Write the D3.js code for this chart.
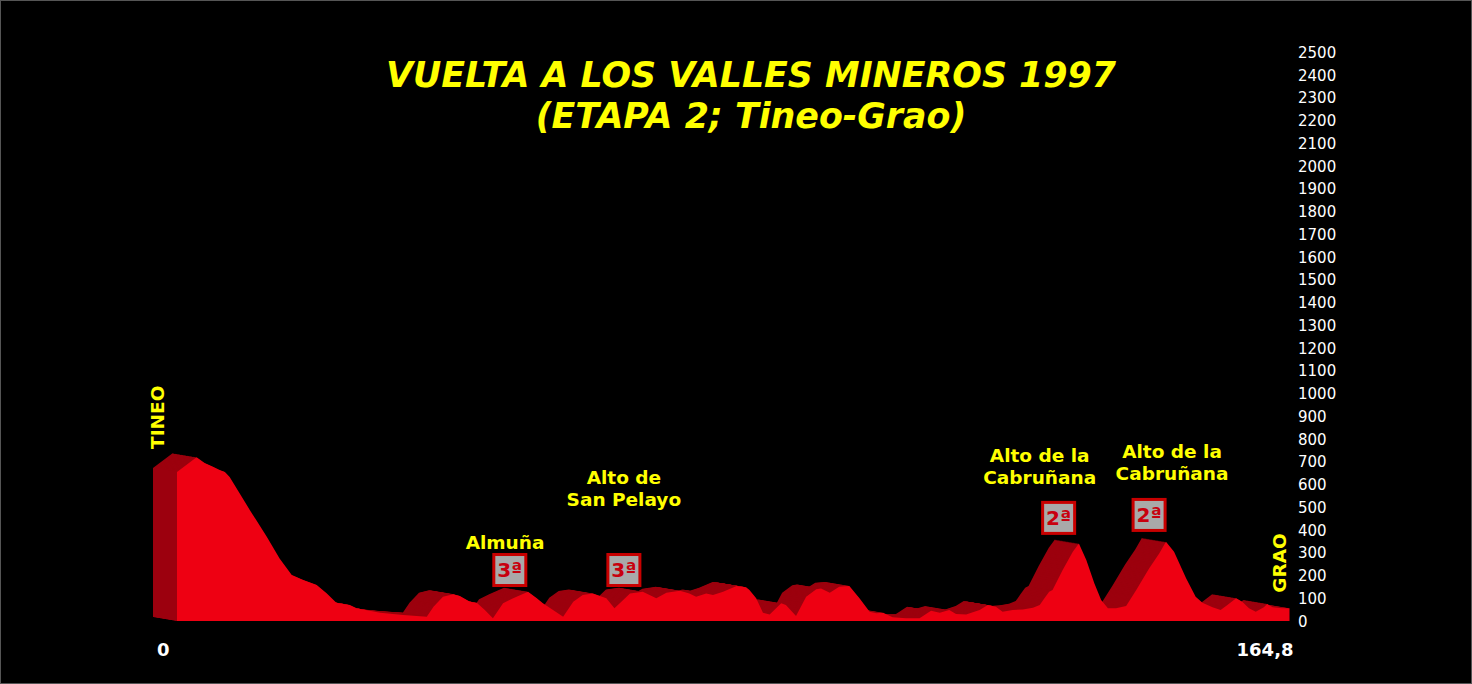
<!DOCTYPE html>
<html>
<head>
<meta charset="utf-8">
<script src="https://cdn.jsdelivr.net/npm/d3@7/dist/d3.min.js"></script>
<style>
  html, body { margin: 0; padding: 0; background: #000; }
  svg { display: block; }
</style>
</head>
<body>
<svg id="chart" width="1472" height="684"></svg>
<script>
// ---- DATA ----
const titleLines = ["VUELTA A LOS VALLES MINEROS 1997", "(ETAPA 2; Tineo-Grao)"];
const startName = "TINEO";
const finishName = "GRAO";
const distanceTicks = [0, 164.8];
const distanceLabels = ["0", "164,8"];
const altitudeTicks = d3.range(0, 2501, 100);

// profile: km, altitude (m)
const km = [0.0, 2.9, 4.1, 5.4, 6.4, 7.1, 7.8, 10.8, 13.3, 15.2, 17.0, 18.7, 20.7, 22.2, 23.6, 25.6, 26.6, 30.1, 33.5, 37.0,
  38.0, 39.4, 40.9, 41.9, 43.4, 44.4, 45.6, 46.8, 48.3, 49.8, 52.0, 53.3, 54.2, 55.7, 57.2, 58.7, 60.1, 61.6, 63.6, 64.8,
  66.1, 67.1, 69.0, 71.0, 72.5, 74.5, 75.9, 76.9, 78.4, 79.4, 80.9, 82.9, 84.3, 84.8, 85.8, 86.8, 87.8, 89.5, 90.2, 91.7,
  93.2, 94.7, 95.4, 96.7, 98.1, 99.6, 101.1, 102.6, 103.6, 104.6, 106.0, 108.0, 110.0, 111.7, 113.0, 114.4, 115.4, 116.9, 118.9, 120.1,
  121.3, 122.3, 123.8, 125.3, 126.8, 127.8, 128.5, 129.2, 129.7, 131.2, 132.7, 133.6, 134.7, 135.9, 136.9, 137.9, 139.1, 140.6, 142.1, 144.0,
  145.5, 146.5, 147.7, 149.5, 150.9, 151.9, 153.4, 154.6, 155.6, 156.9, 157.8, 158.8, 159.8, 161.0, 161.5, 162.3, 163.7, 164.8];
const altitude = [655, 719, 694, 677, 662, 655, 633, 487, 370, 275, 202, 180, 158, 121, 80, 70, 56, 36, 26, 19,
  63, 107, 118, 110, 85, 80, 48, 12, 78, 100, 129, 100, 78, 48, 19, 85, 114, 121, 100, 56,
  92, 121, 129, 100, 124, 133, 121, 107, 121, 114, 129, 154, 148, 136, 100, 36, 29, 78, 70, 22,
  107, 139, 143, 124, 150, 154, 100, 41, 34, 36, 16, 12, 12, 45, 36, 48, 31, 29, 48, 70,
  63, 41, 48, 51, 58, 70, 100, 129, 136, 224, 304, 341, 268, 165, 92, 56, 56, 66, 136, 231,
  297, 348, 304, 187, 107, 80, 60, 48, 70, 100, 85, 56, 41, 60, 75, 60, 56, 56];

// climbs
const climbNames = [["Almuña"], ["Alto de", "San Pelayo"], ["Alto de la", "Cabruñana"], ["Alto de la", "Cabruñana"]];
const climbCategory = ["3ª", "3ª", "2ª", "2ª"];
const climbLabelKm = [48.6, 66.2, 127.8, 147.4];
const climbLabelAlt = [316, 600, 700, 718];   // altitude of first label line baseline
const climbBoxKm = [49.3, 66.2, 130.6, 144.0];
const climbBoxAlt = [224, 224, 453, 466];

// ---- CHART ----
const W = 1472, H = 684;
const svg = d3.select("#chart");
svg.append("rect").attr("x", 0.5).attr("y", 0.5).attr("width", W - 1).attr("height", H - 1)
  .attr("fill", "#000").attr("stroke", "#555").attr("stroke-width", 1);

const x = d3.scaleLinear().domain([0, 164.8]).range([177, 1289.5]);
const y = d3.scaleLinear().domain([0, 2500]).range([621, 52]);

const pts = km.map((k, i) => ({ k: k, a: altitude[i] }));
const area = d3.area().x(d => x(d.k)).y0(y(0)).y1(d => y(d.a)).curve(d3.curveLinear);

// 3D extrusion: sweep of the profile shifted back
const DX = -24, DY = -4, steps = 24;
const back = svg.append("g");
for (let i = steps; i >= 1; i--) {
  back.append("path").datum(pts)
    .attr("d", area)
    .attr("transform", `translate(${DX * i / steps},${DY * i / steps})`)
    .attr("fill", "#9c000e");
}
svg.append("path").datum(pts).attr("d", area).attr("fill", "#ee0012");

// right altitude axis
const yAxis = d3.axisRight(y).tickValues(altitudeTicks).tickFormat(d3.format("d")).tickSize(0).tickPadding(0);
const ga = svg.append("g").attr("transform", "translate(1298,0)").call(yAxis);
ga.select(".domain").remove();
ga.selectAll("text").attr("fill", "#fff").attr("font-family", "DejaVu Sans")
  .attr("font-size", 15).attr("x", 0).attr("dy", "0.35em");

// distance labels
svg.append("text").attr("x", x(distanceTicks[0]) - 20).attr("y", 656)
  .attr("fill", "#fff").attr("font-family", "DejaVu Sans").attr("font-weight", "bold")
  .attr("font-size", 18).attr("text-anchor", "start").text(distanceLabels[0]);
svg.append("text").attr("x", x(distanceTicks[1]) + 4).attr("y", 656)
  .attr("fill", "#fff").attr("font-family", "DejaVu Sans").attr("font-weight", "bold")
  .attr("font-size", 18).attr("text-anchor", "end").text(distanceLabels[1]);

// title
titleLines.forEach((t, i) => {
  svg.append("text").attr("x", 751).attr("y", 87 + i * 41)
    .attr("text-anchor", "middle").attr("fill", "#ffff00")
    .attr("font-family", "DejaVu Sans").attr("font-weight", "bold").attr("font-style", "italic")
    .attr("font-size", 34.8).text(t);
});

// start / finish names
function vertical(name, cx, cy) {
  svg.append("text").attr("transform", `translate(${cx},${cy}) rotate(-90)`)
    .attr("text-anchor", "middle").attr("fill", "#ffff00")
    .attr("font-family", "DejaVu Sans").attr("font-weight", "bold")
    .attr("font-size", 18.5).attr("dy", "0.36em").text(name);
}
vertical(startName, x(0) - 20, y(895));
vertical(finishName, x(164.8) - 10, y(255));

// climbs
climbNames.forEach((lines, i) => {
  lines.forEach((l, j) => {
    svg.append("text").attr("x", x(climbLabelKm[i])).attr("y", y(climbLabelAlt[i]) + j * 22)
      .attr("text-anchor", "middle").attr("fill", "#ffff00")
      .attr("font-family", "DejaVu Sans").attr("font-weight", "bold")
      .attr("font-size", 18.5).text(l);
  });
  const bx = x(climbBoxKm[i]), by = y(climbBoxAlt[i]);
  svg.append("rect").attr("x", bx - 16).attr("y", by - 15.5).attr("width", 32).attr("height", 31)
    .attr("fill", "#a9a9a9").attr("stroke", "#c80000").attr("stroke-width", 3);
  svg.append("text").attr("x", bx).attr("y", by).attr("dy", "0.36em")
    .attr("text-anchor", "middle").attr("fill", "#c8000e")
    .attr("font-family", "DejaVu Sans").attr("font-weight", "bold")
    .attr("font-size", 20).text(climbCategory[i]);
});
</script>
</body>
</html>
